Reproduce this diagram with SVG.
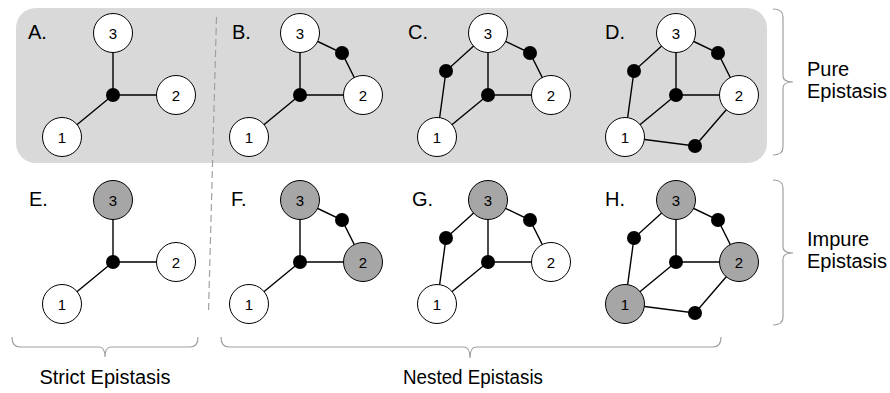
<svg xmlns="http://www.w3.org/2000/svg" width="890" height="393" viewBox="0 0 890 393">
<style>
.bg{fill:#d9d9d9}
.e{stroke:#000;stroke-width:1.4;fill:none}
.n{fill:#fff;stroke:#000;stroke-width:1}
.g{fill:#a6a6a6;stroke:#000;stroke-width:1}
.d{fill:#000}
.t{font-family:"Liberation Sans",Arial,sans-serif;font-size:15px;text-anchor:middle;fill:#000}
.lb{font-family:"Liberation Sans",Arial,sans-serif;font-size:20px;fill:#000}
.br{fill:none;stroke:#a0a0a0;stroke-width:1.2}
.dash{stroke:#a0a0a0;stroke-width:1.2;stroke-dasharray:7,4;fill:none}
</style>
<rect class="bg" x="16" y="8" width="751" height="155" rx="20"/>
<line class="dash" x1="216.5" y1="17" x2="208.5" y2="312"/>

<g id="connectors">
<path class="e" d="M113,33 L113,95 L176,95 M113,95 L62,137"/>
<path class="e" d="M300,33 L300,95 L363,95 M300,95 L249,137 M300,33 L342,53 L363,95"/>
<path class="e" d="M488,33 L488,95 L551,95 M488,95 L437,137 M488,33 L530,53 L551,95 M488,33 L446,71 L437,137"/>
<path class="e" d="M676,33 L676,95 L739,95 M676,95 L625,137 M676,33 L718,53 L739,95 M676,33 L634,71 L625,137 M625,137 L695,146 L739,95"/>
<path class="e" d="M113,200 L113,262 L176,262 M113,262 L62,304"/>
<path class="e" d="M300,200 L300,262 L363,262 M300,262 L249,304 M300,200 L342,220 L363,262"/>
<path class="e" d="M488,200 L488,262 L551,262 M488,262 L437,304 M488,200 L530,220 L551,262 M488,200 L446,238 L437,304"/>
<path class="e" d="M676,200 L676,262 L739,262 M676,262 L625,304 M676,200 L718,220 L739,262 M676,200 L634,238 L625,304 M625,304 L695,313 L739,262"/>
</g>

<g id="panelA">
<text class="lb" x="28" y="39">A.</text>
<g id="A-n3"><circle class="n" cx="113" cy="33" r="19.5"/><text class="t" x="113" y="38.5">3</text></g>
<g id="A-n2"><circle class="n" cx="176" cy="95" r="19.5"/><text class="t" x="176" y="100.5">2</text></g>
<g id="A-n1"><circle class="n" cx="62" cy="137" r="19.5"/><text class="t" x="62" y="142.5">1</text></g>
<g id="A-c"><circle class="d" cx="113" cy="95" r="7"/></g>
</g>

<g id="panelB">
<text class="lb" x="232" y="39">B.</text>
<g id="B-n3"><circle class="n" cx="300" cy="33" r="19.5"/><text class="t" x="300" y="38.5">3</text></g>
<g id="B-n2"><circle class="n" cx="363" cy="95" r="19.5"/><text class="t" x="363" y="100.5">2</text></g>
<g id="B-n1"><circle class="n" cx="249" cy="137" r="19.5"/><text class="t" x="249" y="142.5">1</text></g>
<g id="B-c"><circle class="d" cx="300" cy="95" r="7"/></g>
<g id="B-dR"><circle class="d" cx="342" cy="53" r="7"/></g>
</g>

<g id="panelC">
<text class="lb" x="408" y="39">C.</text>
<g id="C-n3"><circle class="n" cx="488" cy="33" r="19.5"/><text class="t" x="488" y="38.5">3</text></g>
<g id="C-n2"><circle class="n" cx="551" cy="95" r="19.5"/><text class="t" x="551" y="100.5">2</text></g>
<g id="C-n1"><circle class="n" cx="437" cy="137" r="19.5"/><text class="t" x="437" y="142.5">1</text></g>
<g id="C-c"><circle class="d" cx="488" cy="95" r="7"/></g>
<g id="C-dR"><circle class="d" cx="530" cy="53" r="7"/></g>
<g id="C-dL"><circle class="d" cx="446" cy="71" r="7"/></g>
</g>

<g id="panelD">
<text class="lb" x="605" y="39">D.</text>
<g id="D-n3"><circle class="n" cx="676" cy="33" r="19.5"/><text class="t" x="676" y="38.5">3</text></g>
<g id="D-n2"><circle class="n" cx="739" cy="95" r="19.5"/><text class="t" x="739" y="100.5">2</text></g>
<g id="D-n1"><circle class="n" cx="625" cy="137" r="19.5"/><text class="t" x="625" y="142.5">1</text></g>
<g id="D-c"><circle class="d" cx="676" cy="95" r="7"/></g>
<g id="D-dR"><circle class="d" cx="718" cy="53" r="7"/></g>
<g id="D-dL"><circle class="d" cx="634" cy="71" r="7"/></g>
<g id="D-dB"><circle class="d" cx="695" cy="146" r="7"/></g>
</g>

<g id="panelE">
<text class="lb" x="29" y="206">E.</text>
<g id="E-n3"><circle class="g" cx="113" cy="200" r="19.5"/><text class="t" x="113" y="205.5">3</text></g>
<g id="E-n2"><circle class="n" cx="176" cy="262" r="19.5"/><text class="t" x="176" y="267.5">2</text></g>
<g id="E-n1"><circle class="n" cx="62" cy="304" r="19.5"/><text class="t" x="62" y="309.5">1</text></g>
<g id="E-c"><circle class="d" cx="113" cy="262" r="7"/></g>
</g>

<g id="panelF">
<text class="lb" x="231" y="206">F.</text>
<g id="F-n3"><circle class="g" cx="300" cy="200" r="19.5"/><text class="t" x="300" y="205.5">3</text></g>
<g id="F-n2"><circle class="g" cx="363" cy="262" r="19.5"/><text class="t" x="363" y="267.5">2</text></g>
<g id="F-n1"><circle class="n" cx="249" cy="304" r="19.5"/><text class="t" x="249" y="309.5">1</text></g>
<g id="F-c"><circle class="d" cx="300" cy="262" r="7"/></g>
<g id="F-dR"><circle class="d" cx="342" cy="220" r="7"/></g>
</g>

<g id="panelG">
<text class="lb" x="412" y="206">G.</text>
<g id="G-n3"><circle class="g" cx="488" cy="200" r="19.5"/><text class="t" x="488" y="205.5">3</text></g>
<g id="G-n2"><circle class="n" cx="551" cy="262" r="19.5"/><text class="t" x="551" y="267.5">2</text></g>
<g id="G-n1"><circle class="n" cx="437" cy="304" r="19.5"/><text class="t" x="437" y="309.5">1</text></g>
<g id="G-c"><circle class="d" cx="488" cy="262" r="7"/></g>
<g id="G-dR"><circle class="d" cx="530" cy="220" r="7"/></g>
<g id="G-dL"><circle class="d" cx="446" cy="238" r="7"/></g>
</g>

<g id="panelH">
<text class="lb" x="605" y="206">H.</text>
<g id="H-n3"><circle class="g" cx="676" cy="200" r="19.5"/><text class="t" x="676" y="205.5">3</text></g>
<g id="H-n2"><circle class="g" cx="739" cy="262" r="19.5"/><text class="t" x="739" y="267.5">2</text></g>
<g id="H-n1"><circle class="g" cx="625" cy="304" r="19.5"/><text class="t" x="625" y="309.5">1</text></g>
<g id="H-c"><circle class="d" cx="676" cy="262" r="7"/></g>
<g id="H-dR"><circle class="d" cx="718" cy="220" r="7"/></g>
<g id="H-dL"><circle class="d" cx="634" cy="238" r="7"/></g>
<g id="H-dB"><circle class="d" cx="695" cy="313" r="7"/></g>
</g>

<g id="braces">
<path class="br" d="M773,9 Q783,9 783,17 L783,76 Q783,82 793,82 Q783,82 783,88 L783,147 Q783,155 773,155"/>
<path class="br" d="M773,180 Q783,180 783,188 L783,247 Q783,253 793,253 Q783,253 783,259 L783,317 Q783,325 773,325"/>
<path class="br" d="M12,337 Q12,347 20,347 L99,347 Q105,347 105,357 Q105,347 111,347 L190,347 Q198,347 198,337"/>
<path class="br" d="M221,337 Q221,347 229,347 L464,347 Q470,347 470,358 Q470,347 476,347 L713,347 Q721,347 721,337"/>
</g>

<g id="labels">
<text class="lb" x="807" y="76">Pure</text>
<text class="lb" x="807" y="98">Epistasis</text>
<text class="lb" x="807" y="246">Impure</text>
<text class="lb" x="807" y="268">Epistasis</text>
<text class="lb" x="105" y="384" text-anchor="middle">Strict Epistasis</text>
<text class="lb" x="473" y="384" text-anchor="middle" textLength="140" lengthAdjust="spacingAndGlyphs">Nested Epistasis</text>
</g>
</svg>
